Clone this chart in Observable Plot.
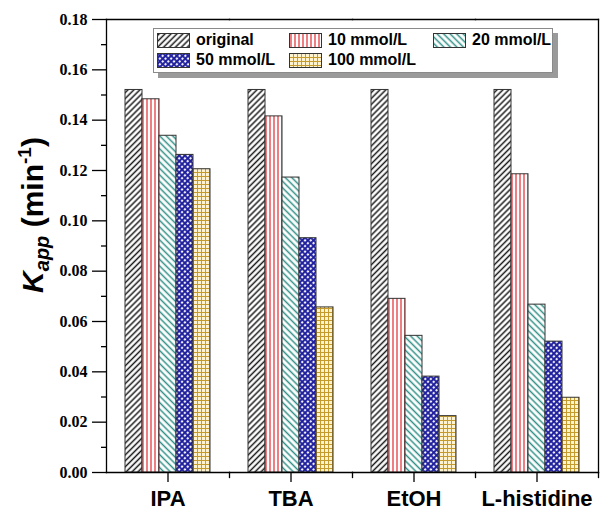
<!DOCTYPE html>
<html>
<head>
<meta charset="utf-8">
<script src="https://cdn.jsdelivr.net/npm/d3@7"></script>
<script src="https://cdn.jsdelivr.net/npm/@observablehq/plot@0.6"></script>
<style>
  html, body { margin: 0; padding: 0; background: #fff; }
  #wrap { position: relative; width: 600px; height: 512px; }
  #legend { position: absolute; left: 153px; top: 28px; width: 398px; height: 43px;
    background: #fff; border: 1px solid #8a8a8a; box-shadow: 5px 5px 0 #9a9a9a;
    font-family: "Liberation Sans", Arial, sans-serif; font-weight: bold; font-size: 16px; color: #000; }
  .item { position: absolute; display: flex; align-items: center; height: 16px; white-space: nowrap; }
  .item svg { width: 33px; height: 15px; margin-right: 6px; flex: none; }
</style>
</head>
<body>
<svg width="0" height="0" style="position:absolute">
  <defs>
    <pattern id="pat0" patternUnits="userSpaceOnUse" width="4.2" height="4.2" patternTransform="rotate(45)">
      <rect width="4.2" height="4.2" fill="#fff"/>
      <line x1="2.1" y1="0" x2="2.1" y2="4.2" stroke="#1a1a1a" stroke-width="1.5"/>
    </pattern>
    <pattern id="pat1" patternUnits="userSpaceOnUse" width="4" height="4">
      <rect width="4" height="4" fill="#fff"/>
      <line x1="2" y1="0" x2="2" y2="4" stroke="#e8474c" stroke-width="1.4"/>
    </pattern>
    <pattern id="pat2" patternUnits="userSpaceOnUse" width="4.6" height="4.6" patternTransform="rotate(-45)">
      <rect width="4.6" height="4.6" fill="#fff"/>
      <line x1="2.3" y1="0" x2="2.3" y2="4.6" stroke="#2f8f86" stroke-width="1.5"/>
    </pattern>
    <pattern id="pat3" patternUnits="userSpaceOnUse" width="4" height="4" patternTransform="rotate(45)">
      <rect width="4" height="4" fill="#1f1f9e"/>
      <circle cx="2" cy="2" r="1.15" fill="#fff"/>
    </pattern>
    <pattern id="pat4" patternUnits="userSpaceOnUse" width="4" height="4">
      <rect width="4" height="4" fill="#fdf3d0"/>
      <line x1="0.5" y1="0" x2="0.5" y2="4" stroke="#c49b2c" stroke-width="1"/>
      <line x1="0" y1="0.5" x2="4" y2="0.5" stroke="#c49b2c" stroke-width="1"/>
    </pattern>
  </defs>
</svg>
<div id="wrap"></div>
<script>
// ---- data ----
const categories = ["IPA", "TBA", "EtOH", "L-histidine"];
const series = ["original", "10 mmol/L", "20 mmol/L", "50 mmol/L", "100 mmol/L"];
const original = [0.152, 0.152, 0.152, 0.152];
const mmol10 = [0.1483, 0.1415, 0.0690, 0.1185];
const mmol20 = [0.1338, 0.1172, 0.0543, 0.0667];
const mmol50 = [0.1262, 0.0931, 0.0381, 0.0520];
const mmol100 = [0.1205, 0.0656, 0.0224, 0.0297];
const yMajorTicks = [0, 0.02, 0.04, 0.06, 0.08, 0.10, 0.12, 0.14, 0.16, 0.18];
const yMinorTicks = [0.01, 0.03, 0.05, 0.07, 0.09, 0.11, 0.13, 0.15, 0.17];
const yTitle = {k: "K", sub: "app", unit: " (min", sup: "-1", close: ")"};

// ---- layout ----
const W = 600, H = 512, mL = 105, mR = 1, mT = 19, mB = 40;
const innerH = H - mT - mB;

const valuesBySeries = [original, mmol10, mmol20, mmol50, mmol100];
const rows = [];
categories.forEach((c, ci) => series.forEach((s, si) => rows.push({cat: c, series: s, value: valuesBySeries[si][ci]})));
const patterns = series.map((_, i) => `url(#pat${i})`);

const chart = Plot.plot({
  width: W, height: H,
  marginLeft: mL, marginRight: mR, marginTop: mT, marginBottom: mB,
  style: {fontFamily: "'Liberation Sans', Arial, sans-serif", background: "#fff", color: "#000"},
  fx: {domain: categories, padding: 0, label: null},
  x: {domain: series, paddingInner: 0, paddingOuter: 1.05, axis: null},
  y: {domain: [0, 0.18]},
  color: {type: "ordinal", domain: series, range: patterns},
  marks: [
    Plot.barY(rows, {fx: "cat", x: "series", y: "value", fill: "series", stroke: "#333", strokeWidth: 1}),
    Plot.frame({anchor: "top", stroke: "#000", strokeWidth: 1.3}),
    Plot.frame({anchor: "bottom", stroke: "#000", strokeWidth: 1.3}),
    Plot.frame({anchor: "left", facetAnchor: "left", stroke: "#000", strokeWidth: 1.3}),
    Plot.frame({anchor: "right", facetAnchor: "right", stroke: "#000", strokeWidth: 1.3}),
    Plot.frame({anchor: "right", insetTop: innerH, insetBottom: -5, stroke: "#000", strokeWidth: 1.3}),
    Plot.axisY({ticks: yMajorTicks, tickFormat: d3.format(".2f"), tickSize: 14, tickPadding: 5, label: null, strokeWidth: 1.3,
      fontFamily: "'Liberation Serif', 'Times New Roman', serif", fontWeight: "bold", fontSize: 16}),
    Plot.axisY({ticks: yMinorTicks, tickFormat: () => "", tickSize: 5, label: null, strokeWidth: 1.3}),
    Plot.axisFx({anchor: "bottom", tickSize: 10, tickPadding: 8, label: null, strokeWidth: 1.3,
      fontFamily: "'Liberation Sans', Arial, sans-serif", fontWeight: "bold", fontSize: 22})
  ]
});
document.getElementById("wrap").appendChild(chart);

const svg = d3.select(chart);
// y-axis title with italic K, subscript and superscript
const t = svg.append("text")
  .attr("transform", `translate(43, 215) rotate(-90)`)
  .attr("text-anchor", "middle")
  .attr("font-family", "'Liberation Sans', Arial, sans-serif")
  .attr("font-weight", "bold")
  .attr("font-size", 30)
  .attr("fill", "#000");
t.append("tspan").attr("font-style", "italic").text(yTitle.k);
t.append("tspan").attr("font-style", "italic").attr("font-size", 20).attr("dy", 6).text(yTitle.sub);
t.append("tspan").attr("dy", -6).text(yTitle.unit);
t.append("tspan").attr("font-size", 19).attr("dy", -12).text(yTitle.sup);
t.append("tspan").attr("dy", 12).text(yTitle.close);

// legend
const legend = d3.select("#wrap").append("div").attr("id", "legend");
const legendPos = [[3, 3], [135, 3], [279, 3], [3, 23], [135, 23]];
series.forEach((s, i) => {
  const it = legend.append("div").attr("class", "item")
    .style("left", legendPos[i][0] + "px").style("top", legendPos[i][1] + "px");
  const sw = it.append("svg");
  sw.append("rect").attr("x", 0.5).attr("y", 0.5).attr("width", 32).attr("height", 14)
    .attr("fill", patterns[i]).attr("stroke", "#333");
  it.append("span").text(s);
});
</script>
</body>
</html>
